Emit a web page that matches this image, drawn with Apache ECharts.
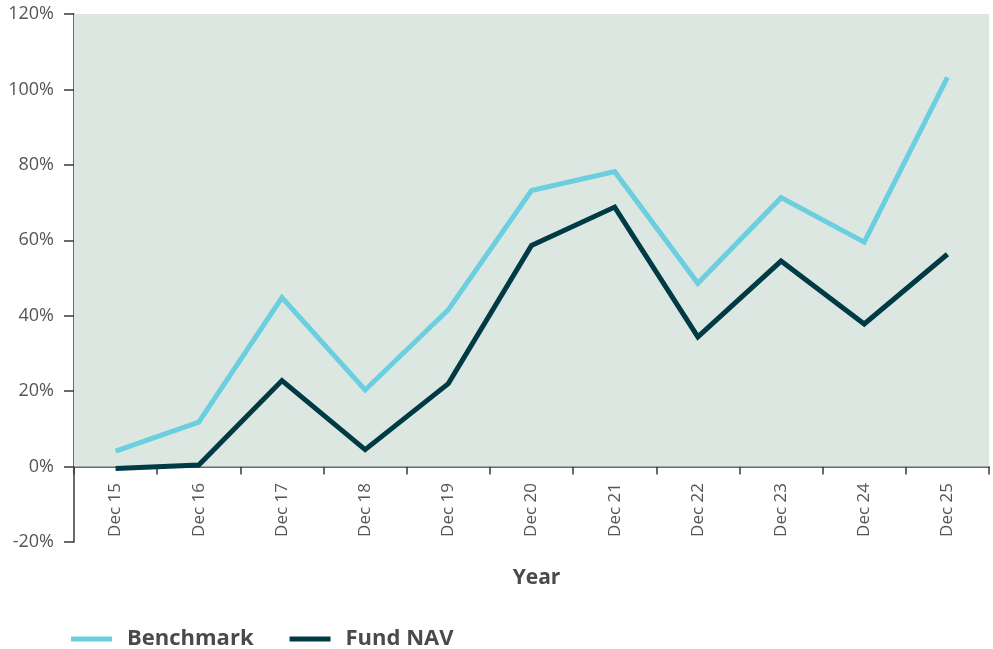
<!DOCTYPE html>
<html>
<head>
<meta charset="utf-8">
<script src="https://cdn.jsdelivr.net/npm/echarts@6/dist/echarts.min.js"></script>
<style>
html,body{margin:0;padding:0;background:#fff;}
#chart{width:993px;height:649px;}
</style>
</head>
<body>
<div id="chart"></div>
<script>
const categories = ['Dec 15','Dec 16','Dec 17','Dec 18','Dec 19','Dec 20','Dec 21','Dec 22','Dec 23','Dec 24','Dec 25'];
const benchmark = [4.1, 11.8, 44.8, 20.3, 41.6, 73.2, 78.2, 48.6, 71.3, 59.5, 103.2];
const fundNav = [-0.5, 0.4, 22.8, 4.5, 22.0, 58.6, 68.8, 34.4, 54.5, 37.8, 56.3];
const yTicks = { min: -20, max: 120, interval: 20 };

const FONT = '"Open Sans", Lato, sans-serif';
const chart = echarts.init(document.getElementById('chart'));
chart.setOption({
  animation: false,
  grid: { left: 74, right: 4, top: 14, bottom: 107, outerBoundsMode: 'none', containLabel: false },
  legend: {
    top: 623, left: 66,
    icon: 'rect', itemWidth: 41, itemHeight: 5, itemGap: 36,
    textStyle: { fontFamily: FONT, fontSize: 22, fontWeight: 'bold', color: '#4a4a4a', padding: [0,0,0,10] },
    data: ['Benchmark', 'Fund NAV']
  },
  xAxis: {
    type: 'category', data: categories, boundaryGap: true,
    name: 'Year', nameLocation: 'middle', nameGap: 26, nameMoveOverlap: false,
    nameTextStyle: { fontFamily: FONT, fontSize: 21, fontWeight: 'bold', color: '#4a4a4a', padding: [0,0,0,10] },
    axisLine: { onZero: true, lineStyle: { color: '#3a3a3a', width: 1.5 } },
    axisTick: { show: true, alignWithLabel: false, length: 8, lineStyle: { color: '#3a3a3a', width: 1.5 } },
    axisLabel: { rotate: 90, margin: -59, fontFamily: FONT, fontSize: 17, color: '#555' },
    splitLine: { show: false }
  },
  yAxis: {
    type: 'value', min: yTicks.min, max: yTicks.max, interval: yTicks.interval,
    axisLine: { show: true, lineStyle: { color: '#3a3a3a', width: 1.5 } },
    axisTick: { show: true, length: 10, lineStyle: { color: '#3a3a3a', width: 1.5 } },
    axisLabel: { formatter: '{value}%', margin: 20, fontFamily: FONT, fontSize: 18, color: '#555' },
    splitLine: { show: false }
  },
  series: [
    {
      name: 'Benchmark', type: 'line', data: benchmark, symbol: 'none',
      lineStyle: { color: '#6bcfdf', width: 5, join: 'miter' }, itemStyle: { color: '#6bcfdf' },
      z: 3,
      markArea: {
        silent: true,
        itemStyle: { color: '#dde7e2' },
        data: [[{ yAxis: 0 }, { yAxis: 120 }]]
      }
    },
    {
      name: 'Fund NAV', type: 'line', data: fundNav, symbol: 'none',
      lineStyle: { color: '#003a45', width: 5, join: 'miter' }, itemStyle: { color: '#003a45' },
      z: 4
    }
  ]
});
</script>
</body>
</html>
